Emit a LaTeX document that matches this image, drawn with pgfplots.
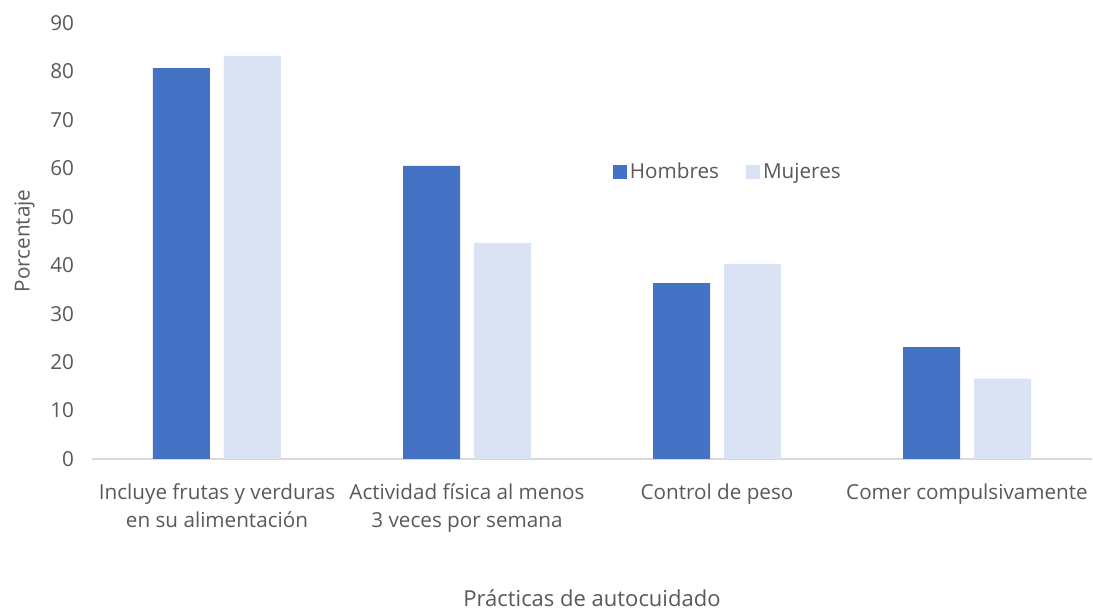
\documentclass[border=0pt]{standalone}
\usepackage{pgfplots}
\pgfplotsset{compat=1.18}
\usepackage{fontspec}
\setmainfont{Open Sans}
\definecolor{hombres}{HTML}{4472C4}
\definecolor{mujeres}{HTML}{DAE3F3}
\definecolor{txt}{HTML}{595959}
\definecolor{base}{HTML}{D9D9D9}

\begin{document}
\begin{tikzpicture}
\begin{axis}[
    name=ax,
    scale only axis,
    width=750pt, height=327pt,
    ybar=10.5pt, bar width=42.75pt,
    xmin=-0.5, xmax=3.5,
    ymin=0, ymax=90,
    ytick={0,10,...,90},
    xtick=data,
    xticklabels={{Incluye frutas y verduras\\en su alimentación},{Actividad física al menos\\3 veces por semana},{Control de peso},{Comer compulsivamente}},
    xticklabel style={align=center, font=\fontsize{15.5}{21}\selectfont, text=txt, yshift=-15pt},
    yticklabel style={font=\fontsize{15.5}{18}\selectfont, text=txt, xshift=-10pt},
    /pgf/number format/assume math mode=true,
    axis x line*=bottom, axis y line*=left,
    x axis line style={base, thick},
    y axis line style={draw=none},
    major tick length=0pt,
    ylabel={Porcentaje},
    ylabel style={font=\fontsize{15.5}{18}\selectfont, text=txt, yshift=5pt},
    xlabel={Prácticas de autocuidado},
    xlabel style={font=\fontsize{16.5}{20}\selectfont, text=txt, yshift=-36pt},
    legend style={draw=none, at={(0.636,0.658)}, anchor=center, font=\fontsize{15.5}{18}\selectfont, text=txt, legend columns=2, /tikz/every even column/.append style={column sep=18pt}},
    legend image code/.code={\fill[#1] (0pt,-5.5pt) rectangle (11pt,5.5pt);},
]
\addplot[fill=hombres, draw=none] coordinates {(0,80.7) (1,60.5) (2,36.3) (3,23.1)};
\addlegendentry{Hombres}
\addplot[fill=mujeres, draw=none] coordinates {(0,83.2) (1,44.6) (2,40.3) (3,16.6)};
\addlegendentry{Mujeres}
\end{axis}
\path[use as bounding box] ([xshift=-69pt,yshift=-111pt]ax.south west) rectangle ([xshift=0.75pt,yshift=17.25pt]ax.north east);
\end{tikzpicture}
\end{document}
